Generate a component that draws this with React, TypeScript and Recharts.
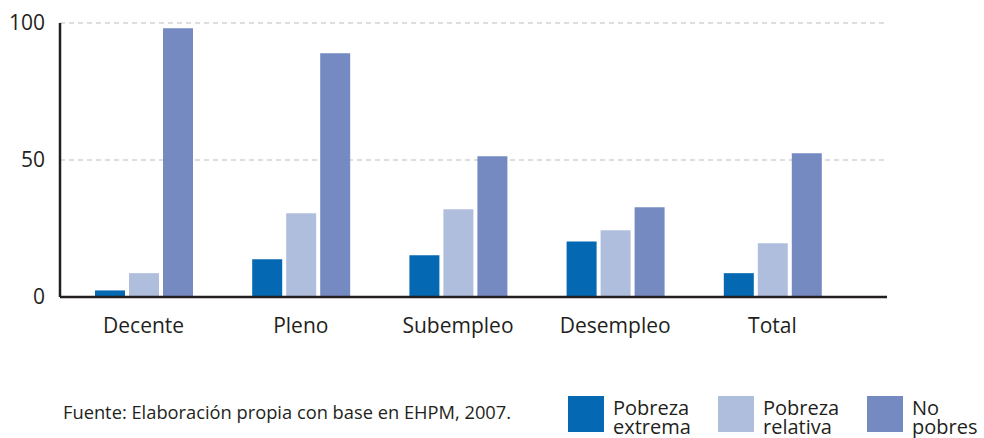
import React from 'react';
import { BarChart, Bar, XAxis, YAxis, CartesianGrid } from 'recharts';

const categories = ['Decente', 'Pleno', 'Subempleo', 'Desempleo', 'Total'];
const pobrezaExtrema = [2.4, 13.8, 15.2, 20.3, 8.7];
const pobrezaRelativa = [8.7, 30.6, 32.0, 24.4, 19.6];
const noPobres = [98.1, 89.0, 51.4, 32.8, 52.5];
const yTicks = [0, 50, 100];
const seriesNames = ['Pobreza extrema', 'Pobreza relativa', 'No pobres'];
const sourceText = 'Fuente: Elaboración propia con base en EHPM, 2007.';

const COLORS = ['#0568B3', '#B0BEDD', '#768AC2'];
const TEXT = '#231F20';
const FONT = '"Open Sans", "Noto Sans", sans-serif';

const data = categories.map((c, i) => ({
  name: c,
  extrema: pobrezaExtrema[i],
  relativa: pobrezaRelativa[i],
  noPobres: noPobres[i],
}));
const keys = ['extrema', 'relativa', 'noPobres'];

const legendX = [568, 718, 867];

export default function App() {
  return (
    <div style={{ position: 'absolute', left: 0, top: 0, width: 984, height: 438, background: '#fff', fontFamily: FONT, overflow: 'hidden' }}>
      <BarChart
        width={984}
        height={438}
        data={data}
        margin={{ top: 23, right: 97, left: 0, bottom: 111 }}
        barSize={30}
        barGap={4}
      >
        <CartesianGrid horizontal vertical={false} stroke="#D4D4D4" strokeDasharray="5 4" strokeWidth={1.5} />
        <XAxis
          dataKey="name"
          height={30}
          padding={{ left: 5, right: 36 }}
          axisLine={{ stroke: TEXT, strokeWidth: 2.5 }}
          tickLine={false}
          tickSize={6}
          tickMargin={15}
          tick={{ fill: TEXT, fontSize: 21, fontFamily: FONT }}
          interval={0}
        />
        <YAxis
          width={60}
          domain={[0, 100]}
          ticks={yTicks}
          axisLine={{ stroke: TEXT, strokeWidth: 2.5 }}
          tickLine={false}
          tickSize={6}
          tickMargin={9}
          tick={{ fill: TEXT, fontSize: 21, fontFamily: FONT }}
        />
        {keys.map((k, i) => (
          <Bar key={k} dataKey={k} name={seriesNames[i]} fill={COLORS[i]} isAnimationActive={false} />
        ))}
      </BarChart>
      <div
        style={{
          position: 'absolute',
          left: 63,
          top: 402,
          fontSize: 18.3,
          lineHeight: '20px',
          color: TEXT,
          whiteSpace: 'nowrap',
        }}
      >
        {sourceText}
      </div>
      {seriesNames.map((n, i) => {
        const sp = n.indexOf(' ');
        const l1 = n.slice(0, sp);
        const l2 = n.slice(sp + 1);
        return (
          <React.Fragment key={n}>
            <div
              style={{
                position: 'absolute',
                left: legendX[i],
                top: 396,
                width: 36,
                height: 36,
                background: COLORS[i],
              }}
            />
            <div
              style={{
                position: 'absolute',
                left: legendX[i] + 45,
                top: 398,
                fontSize: 20,
                lineHeight: '19px',
                color: TEXT,
                whiteSpace: 'nowrap',
              }}
            >
              <div>{l1}</div>
              <div>{l2}</div>
            </div>
          </React.Fragment>
        );
      })}
    </div>
  );
}
